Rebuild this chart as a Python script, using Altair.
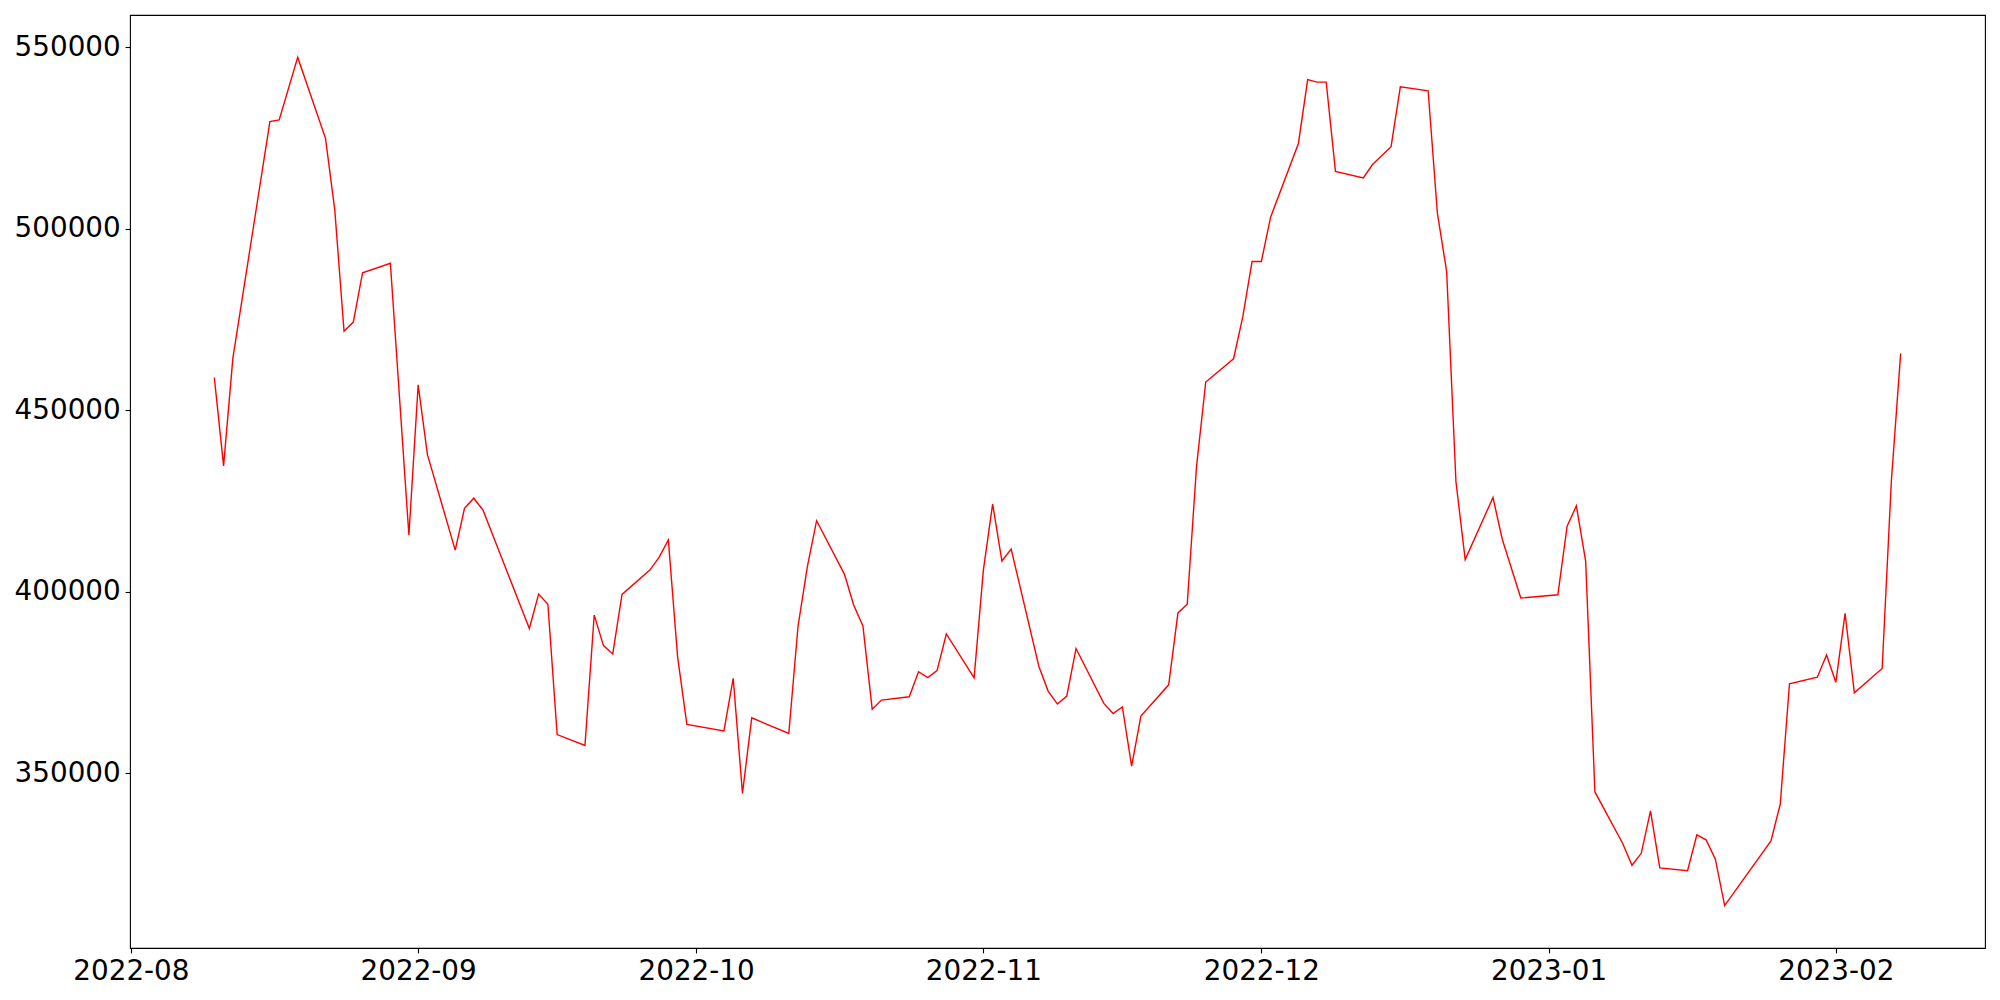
import altair as alt
import pandas as pd

dates = [
    "2022-08-10", "2022-08-11", "2022-08-12", "2022-08-16", "2022-08-17", "2022-08-19",
    "2022-08-22", "2022-08-23", "2022-08-24", "2022-08-25", "2022-08-26", "2022-08-29",
    "2022-08-31", "2022-09-01", "2022-09-02", "2022-09-05", "2022-09-06", "2022-09-07",
    "2022-09-08", "2022-09-13", "2022-09-14", "2022-09-15", "2022-09-16", "2022-09-19",
    "2022-09-20", "2022-09-21", "2022-09-22", "2022-09-23", "2022-09-26", "2022-09-27",
    "2022-09-28", "2022-09-29", "2022-09-30", "2022-10-04", "2022-10-05", "2022-10-06",
    "2022-10-07", "2022-10-11", "2022-10-12", "2022-10-13", "2022-10-14", "2022-10-17",
    "2022-10-18", "2022-10-19", "2022-10-20", "2022-10-21", "2022-10-24", "2022-10-25",
    "2022-10-26", "2022-10-27", "2022-10-28", "2022-10-31", "2022-11-01", "2022-11-02",
    "2022-11-03", "2022-11-04", "2022-11-07", "2022-11-08", "2022-11-09", "2022-11-10",
    "2022-11-11", "2022-11-14", "2022-11-15", "2022-11-16", "2022-11-17", "2022-11-18",
    "2022-11-21", "2022-11-22", "2022-11-23", "2022-11-24", "2022-11-25", "2022-11-28",
    "2022-11-29", "2022-11-30", "2022-12-01", "2022-12-02", "2022-12-05", "2022-12-06",
    "2022-12-07", "2022-12-08", "2022-12-09", "2022-12-12", "2022-12-13", "2022-12-15",
    "2022-12-16", "2022-12-19", "2022-12-20", "2022-12-21", "2022-12-22", "2022-12-23",
    "2022-12-26", "2022-12-27", "2022-12-29", "2023-01-02", "2023-01-03", "2023-01-04",
    "2023-01-05", "2023-01-06", "2023-01-09", "2023-01-10", "2023-01-11", "2023-01-12",
    "2023-01-13", "2023-01-16", "2023-01-17", "2023-01-18", "2023-01-19", "2023-01-20",
    "2023-01-25", "2023-01-26", "2023-01-27", "2023-01-30", "2023-01-31", "2023-02-01",
    "2023-02-02", "2023-02-03", "2023-02-06", "2023-02-07", "2023-02-08",
]

values = [
    459000, 434700, 464300, 529500, 530000, 547200,
    524900, 505200, 471800, 474300, 487900, 490500,
    415600, 457000, 437800, 411500, 423000, 425800,
    422500, 389900, 399400, 396600, 360700, 357700,
    393600, 385200, 382900, 399300, 406000, 409500,
    414300, 382100, 363500, 361700, 376200, 344500,
    365300, 361000, 390600, 406900, 419600, 404900,
    396400, 390600, 367700, 370200, 371100, 378000,
    376400, 378300, 388400, 376300, 406000, 424200,
    408500, 411800, 379400, 372600, 369100, 371300,
    384400, 369300, 366500, 368300, 352000, 365800,
    374400, 394200, 396600, 434400, 457800, 464200,
    475800, 491000, 491000, 503200, 523500, 541100,
    540400, 540400, 515800, 514000, 517700, 522600,
    539100, 538000, 504300, 488200, 430400, 408900,
    426000, 414500, 398300, 399200, 418100, 423700,
    408500, 344900, 330700, 324700, 328000, 339700,
    324000, 323200, 333100, 331700, 326400, 313600,
    331400, 341500, 374700, 376500, 382600, 375100,
    394100, 372200, 378900, 430800, 465700,
]

x_tick_dates = ["2022-08-01", "2022-09-01", "2022-10-01", "2022-11-01",
                "2022-12-01", "2023-01-01", "2023-02-01"]
y_ticks = [350000, 400000, 450000, 500000, 550000]


def ms(s):
    return int(pd.Timestamp(s, tz="UTC").value // 10**6)


df = pd.DataFrame({"date": dates, "value": values})

x_domain = [ms("2022-07-31T21:36:00"), ms("2023-02-17T02:24:00")]
y_domain = [301920, 558880]

font = "DejaVu Sans"
fs = 27.8

chart = (
    alt.Chart(df)
    .mark_line(color="#ff0000", strokeWidth=1.4, clip=True)
    .encode(
        x=alt.X(
            "date:T",
            scale=alt.Scale(type="utc", domain=x_domain, nice=False),
            axis=alt.Axis(
                values=[ms(d) for d in x_tick_dates],
                labelExpr="utcFormat(datum.value, '%Y-%m')",
                title=None,
                grid=False,
                domain=False,
                tickColor="black",
                tickSize=4.9,
                tickWidth=1.1,
                labelPadding=4.9,
                labelFont=font,
                labelFontSize=fs,
                labelColor="black",
                labelBaseline="top",
                labelAlign="center",
                labelFlush=False,
                labelOverlap=False,
            ),
        ),
        y=alt.Y(
            "value:Q",
            scale=alt.Scale(domain=y_domain, nice=False, zero=False),
            axis=alt.Axis(
                values=y_ticks,
                format="d",
                title=None,
                grid=False,
                domain=False,
                tickColor="black",
                tickSize=4.9,
                tickWidth=1.1,
                labelPadding=4.9,
                labelFont=font,
                labelFontSize=fs,
                labelColor="black",
                labelBaseline="middle",
                labelAlign="right",
                labelFlush=False,
                labelOverlap=False,
            ),
        ),
        order=alt.Order("date:T"),
    )
    .properties(
        width=1855,
        height=933,
        autosize=alt.AutoSizeParams(type="none"),
        padding={"left": 122, "top": 7, "right": 6, "bottom": 45},
        background="white",
    )
    .configure_view(stroke="black", strokeWidth=1.1)
)

chart.save("out.html", embed_options={"renderer": "svg", "actions": False})
